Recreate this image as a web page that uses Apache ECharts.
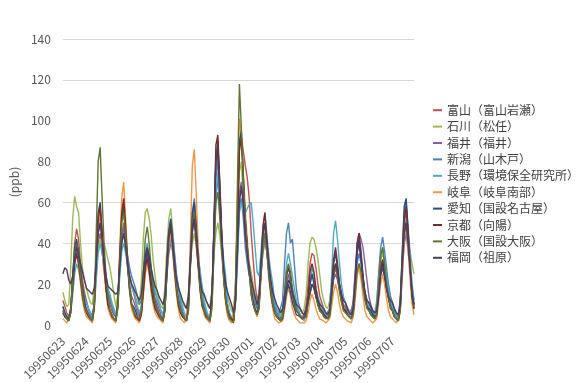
<!DOCTYPE html>
<html>
<head>
<meta charset="utf-8">
<script src="https://cdn.jsdelivr.net/npm/echarts@6/dist/echarts.min.js"></script>
<style>
  html, body { margin: 0; padding: 0; background: #ffffff; }
  #chart { width: 576px; height: 383px; }
</style>
</head>
<body>
<div id="chart"></div>
<script>
// Observation days and 2-hourly sampling times
const dates = ['19950623','19950624','19950625','19950626','19950627','19950628','19950629',
               '19950630','19950701','19950702','19950703','19950704','19950705','19950706','19950707'];
const hours = [0, 2, 4, 6, 8, 10, 12, 14, 16, 18, 20, 22];

// Station names (legend)
const stations = ['富山（富山岩瀬）','石川（松任）','福井（福井）','新潟（山木戸）','長野（環境保全研究所）',
                  '岐阜（岐阜南部）','愛知（国設名古屋）','京都（向陽）','大阪（国設大阪）','福岡（祖原）'];

// Concentrations (ppb), 12 readings per day, one row per day
const toyama = [
  12,9,6,4,8,22,40,47,42,30,22,16,   12,8,6,5,10,25,40,45,36,26,18,14,
  10,7,5,4,12,30,44,50,40,30,24,20,  16,12,8,5,7,16,26,32,28,22,16,12,
  9,6,4,3,10,26,42,48,38,26,18,12,   9,6,4,3,12,32,52,58,44,30,20,14,
  10,6,4,3,15,45,76,85,66,40,24,14,  8,4,3,2,20,55,88,92,85,78,72,62,
  45,32,20,12,16,30,42,45,36,26,18,12, 8,6,4,3,6,12,18,22,20,16,12,9,
  7,5,4,5,10,20,30,35,34,28,20,14,   11,8,6,5,8,15,24,28,24,18,14,10,
  9,7,5,5,10,24,36,40,32,22,16,12,   10,8,6,4,8,18,28,32,26,18,14,10,
  9,6,4,3,12,32,50,55,46,30,16,10];
const ishikawa = [
  16,12,9,10,28,52,63,58,55,40,28,22, 18,14,11,10,18,30,38,42,41,40,36,32,
  28,22,15,9,15,30,42,45,38,30,24,20, 18,14,11,10,22,42,55,57,52,44,32,24,
  16,12,9,8,18,38,52,57,46,34,24,18,  15,11,9,8,16,30,40,45,38,30,22,18,
  15,12,9,8,18,34,45,50,44,34,26,20,  15,10,7,5,22,50,75,80,62,48,38,30,
  26,20,15,10,14,26,35,40,36,28,22,16, 11,8,6,5,8,14,20,25,22,18,14,11,
  9,7,6,8,15,30,40,43,42,38,32,24,    16,12,9,8,12,20,26,30,26,20,16,13,
  11,9,7,6,10,20,26,30,26,19,15,12,   10,8,7,6,12,24,32,35,30,24,18,14,
  10,8,6,5,12,28,40,45,42,36,30,25];
const fukui = [
  6,4,3,2,8,20,30,35,30,22,15,10,     8,6,4,3,10,30,48,55,44,32,22,16,
  12,9,6,4,10,28,42,48,40,28,20,14,   12,9,6,4,8,22,32,38,32,24,18,13,
  11,8,5,3,10,24,35,40,36,26,18,13,   9,6,4,2,10,30,48,55,44,30,20,13,
  8,5,3,2,12,38,62,72,58,38,24,16,    8,5,3,2,12,36,65,70,60,45,36,30,
  22,16,11,8,12,24,36,42,35,26,18,13, 9,6,4,3,5,12,20,25,20,14,10,7,
  6,4,3,3,5,10,15,20,18,14,10,7,      7,5,4,4,7,14,22,25,22,17,13,9,
  8,6,5,6,12,26,40,45,42,38,30,22,    14,10,7,4,8,16,26,30,24,18,14,10,
  9,6,4,3,8,24,40,45,36,26,16,10];
const niigata = [
  9,6,4,3,8,22,35,40,36,26,18,13,     11,8,5,4,10,30,45,50,42,30,22,16,
  13,9,6,4,10,26,40,45,42,34,28,24,   21,18,14,10,12,22,32,35,30,24,20,16,
  13,10,7,5,12,30,45,52,44,34,24,18,  11,7,4,3,12,36,55,62,50,36,24,16,
  10,6,4,3,14,42,72,80,62,44,28,18,   9,5,3,2,12,36,58,62,52,38,30,24,
  22,16,11,8,12,26,40,45,38,28,20,14, 9,6,5,5,12,30,45,50,40,42,30,18,
  11,8,6,5,7,14,20,25,22,16,12,9,     9,6,5,5,8,18,26,30,28,20,16,12,
  11,8,6,5,8,18,30,35,30,22,16,12,    11,8,6,5,10,26,38,43,36,28,20,14,
  11,7,5,4,12,36,55,60,48,34,20,12];
const nagano = [
  7,5,4,3,6,15,25,30,27,22,17,13,     11,8,6,4,8,22,35,40,35,29,24,18,
  15,11,8,5,8,24,36,40,35,29,24,19,   16,13,9,6,9,24,35,40,34,27,22,17,
  13,10,7,5,8,24,38,42,36,29,22,17,   13,9,6,4,10,30,45,50,42,34,26,19,
  12,8,5,4,12,36,65,75,60,44,32,24,   10,6,4,3,10,30,55,60,56,55,57,59,
  60,50,38,26,24,36,48,55,44,34,26,20, 11,8,6,4,7,18,30,35,30,24,18,12,
  7,5,3,2,5,12,22,28,24,18,14,11,     9,7,5,4,8,24,45,51,42,30,20,14,
  11,8,5,3,6,16,26,30,26,20,15,11,    9,6,4,3,7,20,33,38,32,24,17,12,
  9,6,4,3,10,30,46,52,44,30,18,12];
const gifu = [
  3,2,1,1,6,20,32,38,30,20,12,7,      4,3,2,1,8,30,50,55,42,28,16,8,
  5,3,2,1,10,38,62,70,52,32,16,8,     5,3,2,1,5,14,25,30,25,16,10,6,
  4,3,2,1,7,25,40,45,36,24,14,7,      3,2,1,1,10,42,78,86,64,38,20,10,
  5,3,2,1,12,48,80,88,70,44,22,10,    4,2,1,1,16,60,101,92,75,56,42,30,
  20,12,7,4,8,26,42,48,36,22,14,8,    3,2,1,1,2,7,14,18,14,8,5,3,
  2,1,1,1,2,6,12,15,12,8,5,3,         3,2,1,1,3,9,16,20,16,10,6,4,
  3,2,2,1,4,12,24,28,22,14,7,4,       3,2,1,1,3,11,20,25,20,13,7,4,
  3,2,1,1,6,24,42,48,38,22,10,5];
const aichi = [
  9,6,4,3,8,24,38,42,36,26,18,12,     7,5,3,2,10,35,55,60,46,30,18,10,
  7,5,3,2,10,32,52,58,44,28,17,10,    9,7,4,3,6,18,30,36,30,22,15,10,
  7,5,3,2,8,28,46,52,40,28,18,11,     6,4,3,2,9,32,55,60,48,32,18,10,
  7,4,3,2,12,46,82,90,66,42,24,12,    7,4,3,2,14,52,90,95,70,50,38,26,
  18,12,8,6,10,28,45,50,38,24,16,10,  6,4,3,2,3,9,16,20,16,11,8,5,
  5,4,3,3,4,12,20,25,20,14,10,7,      7,5,4,3,5,17,30,35,28,18,12,8,
  7,5,4,3,6,18,35,40,32,22,14,9,      9,7,5,4,5,16,26,30,24,18,13,9,
  7,4,3,2,10,34,58,62,46,28,14,8];
const kyoto = [
  6,4,3,2,6,18,30,35,30,22,14,9,      6,4,3,2,8,32,52,58,45,30,18,10,
  7,4,3,2,10,34,55,62,48,32,18,10,    7,4,3,2,5,16,28,33,26,18,12,8,
  6,4,3,2,7,24,42,48,38,26,16,9,      6,4,3,2,7,28,46,52,40,28,16,9,
  7,4,3,2,12,48,88,93,70,44,24,12,    7,4,3,2,12,46,85,92,72,52,38,26,
  15,10,7,5,9,28,48,55,42,28,16,10,   6,4,3,2,4,14,24,28,24,16,11,7,
  6,4,3,3,5,14,26,30,26,18,12,8,      7,5,4,3,5,17,32,38,30,20,13,8,
  7,5,4,3,6,20,40,45,36,24,15,9,      7,5,4,3,5,16,28,32,26,18,13,8,
  7,4,3,2,8,30,52,58,44,28,14,8];
const osaka = [
  7,5,3,2,6,22,35,40,34,24,15,9,      7,5,3,2,10,45,80,87,62,40,24,14,
  7,5,3,2,8,30,50,55,44,30,18,11,     7,5,4,3,7,25,42,48,40,28,18,11,
  7,5,3,2,7,28,45,50,40,28,18,11,     7,5,3,2,7,30,50,55,44,30,18,11,
  7,5,3,2,8,34,60,65,52,36,22,12,     6,3,2,1,15,70,118,96,72,52,38,26,
  15,10,7,5,8,24,40,45,36,26,17,10,   6,4,3,2,4,15,26,30,26,18,12,7,
  6,4,3,3,4,11,16,20,18,14,10,7,      6,4,3,3,4,13,24,28,24,16,11,7,
  7,5,4,3,5,15,26,30,26,18,12,8,      7,5,4,3,5,20,34,38,30,20,14,9,
  7,4,3,2,7,28,45,50,40,28,16,9];
const fukuoka = [
  25,28,27,22,20,24,32,38,34,30,26,22, 18,17,16,15,18,30,45,50,42,32,24,19,
  18,17,16,15,16,28,40,45,38,30,24,20, 18,16,14,12,15,26,34,38,34,28,23,19,
  17,14,12,10,14,30,45,50,40,30,22,18, 15,12,10,8,14,32,48,52,44,32,22,16,
  15,12,10,8,16,46,80,85,64,42,28,20,  16,13,10,6,12,36,60,68,58,44,34,28,
  22,18,14,10,14,30,45,50,40,30,22,16, 13,10,8,6,8,14,18,22,20,16,13,10,
  9,8,6,5,7,12,16,20,18,14,12,10,      9,8,6,5,7,16,26,30,26,20,15,12,
  11,8,6,5,8,22,38,42,34,24,16,12,     11,9,7,6,7,14,24,28,24,18,14,12,
  11,8,6,5,10,30,45,50,40,28,16,10];

const seriesValues = [toyama, ishikawa, fukui, niigata, nagano, gifu, aichi, kyoto, osaka, fukuoka];
const colors = ['#C0504D','#9BBB59','#8064A2','#4F81BD','#4BACC6',
                '#F79646','#2C4D75','#772C2A','#5F7530','#4D3B62'];

// Category axis: one entry per reading, labelled by date
const categories = [];
dates.forEach(d => hours.forEach(h => categories.push(d + '-' + String(h).padStart(2, '0'))));

const chart = echarts.init(document.getElementById('chart'), null, { renderer: 'canvas' });
const font = '"Noto Sans CJK JP", "Noto Sans", sans-serif';

chart.setOption({
  animation: false,
  backgroundColor: '#ffffff',
  color: colors,
  grid: { left: 47, right: 162, top: 39, bottom: 57, containLabel: false },
  legend: {
    orient: 'vertical',
    left: 428,
    top: 97,
    itemGap: 0,
    itemWidth: 9,
    itemHeight: 2,
    icon: 'rect',
    textStyle: { fontFamily: font, fontSize: 12, color: '#404040', lineHeight: 16.4 },
    data: stations
  },
  xAxis: {
    type: 'category',
    data: categories,
    boundaryGap: false,
    axisLine: { show: false },
    axisTick: { show: false },
    splitLine: { show: false },
    axisLabel: {
      interval: hours.length - 1,
      rotate: 45,
      margin: 14,
      fontFamily: font,
      fontSize: 12,
      color: '#595959',
      formatter: v => v.split('-')[0]
    }
  },
  yAxis: {
    type: 'value',
    min: 0,
    max: 140,
    interval: 20,
    name: '(ppb)',
    nameLocation: 'middle',
    nameGap: 30,
    nameRotate: 90,
    nameTextStyle: { fontFamily: font, fontSize: 12, color: '#595959' },
    axisLine: { show: false },
    axisTick: { show: false },
    axisLabel: { fontFamily: font, fontSize: 12, color: '#595959', margin: 12 },
    splitLine: {
      show: true,
      lineStyle: {
        width: 1,
        color: ['rgba(0,0,0,0)','rgba(0,0,0,0)','#d9d9d9','#d9d9d9',
                'rgba(0,0,0,0)','rgba(0,0,0,0)','#d9d9d9','#d9d9d9']
      }
    }
  },
  series: stations.map((name, i) => ({
    name: name,
    type: 'line',
    data: seriesValues[i],
    symbol: 'none',
    smooth: false,
    lineStyle: { width: 1.4, color: colors[i] },
    itemStyle: { color: colors[i] }
  }))
});
</script>
</body>
</html>
